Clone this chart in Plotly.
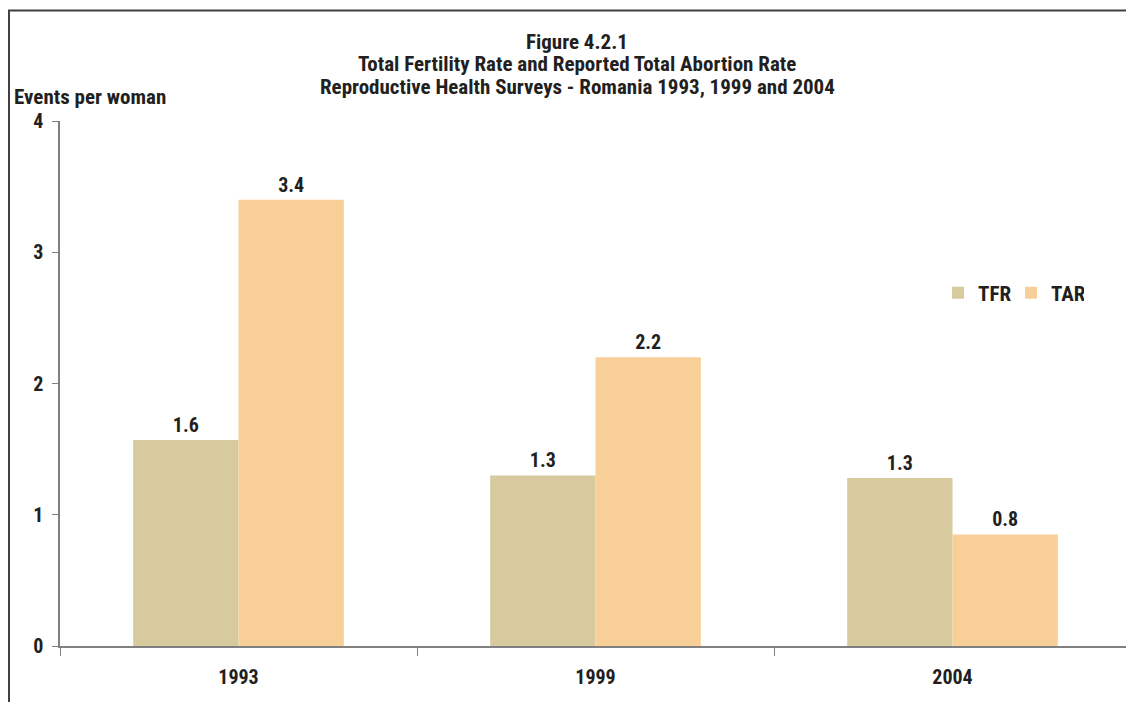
import plotly.graph_objects as go

years = ["1993", "1999", "2004"]
tfr = [1.57, 1.30, 1.28]
tar = [3.40, 2.20, 0.85]
title_lines = ["Figure 4.2.1",
               "Total Fertility Rate and Reported Total Abortion Rate",
               "Reproductive Health Surveys - Romania 1993, 1999 and 2004"]
y_ticks = [0, 1, 2, 3, 4]

FONT = "Liberation Sans Narrow, Roboto Condensed, Arial Narrow, sans-serif"
INK = "#231F20"
OFF = 8  # page body margin
W, H = 1126, 694
L, R, T, B = 52, 3, 113, 56
PW, PH = W - L - R, H - T - B

def px(x):
    return (x - OFF - L) / PW

def py(y):
    return (OFF + H - B - y) / PH

def f(size):
    return dict(size=size, family=FONT, color=INK, weight="bold")

fig = go.Figure()
fig.add_trace(go.Bar(x=years, y=tfr, name="TFR", marker_color="#D6CA9E",
                     marker_line_width=0,
                     texttemplate="%{y:.1f}", textposition="outside",
                     textfont=f(20), cliponaxis=False))
fig.add_trace(go.Bar(x=years, y=tar, name="TAR", marker_color="#F9CF98",
                     marker_line_width=0,
                     texttemplate="%{y:.1f}", textposition="outside",
                     textfont=f(20), cliponaxis=False))

fig.update_layout(
    width=W, height=H,
    margin=dict(l=L, r=R, t=T, b=B),
    paper_bgcolor="white", plot_bgcolor="white",
    barmode="group", bargap=0.41, bargroupgap=0,
    font=f(20),
    showlegend=True,
    legend=dict(orientation="h", x=px(938), y=py(293), xanchor="left", yanchor="middle",
                font=f(21), itemwidth=30, entrywidth=28, entrywidthmode="pixels",
                bgcolor="rgba(0,0,0,0)", traceorder="normal"),
)
fig.update_xaxes(showline=True, linecolor="#808080", linewidth=2,
                 ticks="outside", tickson="boundaries", ticklen=8, tickcolor="#808080",
                 tickfont=f(20), ticklabelstandoff=12)
fig.update_yaxes(range=[0, 4], tickvals=y_ticks, showline=True, linecolor="#808080",
                 linewidth=1.5, ticks="outside", ticklen=6, tickcolor="#808080",
                 showgrid=False, zeroline=False,
                 tickfont=f(20), ticklabelstandoff=5)

for line, yy in zip(title_lines, [42, 64, 87]):
    fig.add_annotation(text=line, xref="paper", yref="paper",
                       x=px(577), y=py(yy), xanchor="center", yanchor="middle",
                       showarrow=False, font=f(21))

fig.add_annotation(text="Events per woman", xref="paper", yref="paper",
                   x=px(12), y=py(97), xanchor="left", yanchor="middle",
                   showarrow=False, font=f(21))

fig.add_shape(type="line", xref="paper", yref="paper", x0=px(9), x1=px(9),
              y0=py(705), y1=py(10.5), line=dict(color="#404040", width=2))
fig.add_shape(type="line", xref="paper", yref="paper", x0=px(8), x1=px(1140),
              y0=py(10.5), y1=py(10.5), line=dict(color="#404040", width=2))

fig.write_html("out.html")
